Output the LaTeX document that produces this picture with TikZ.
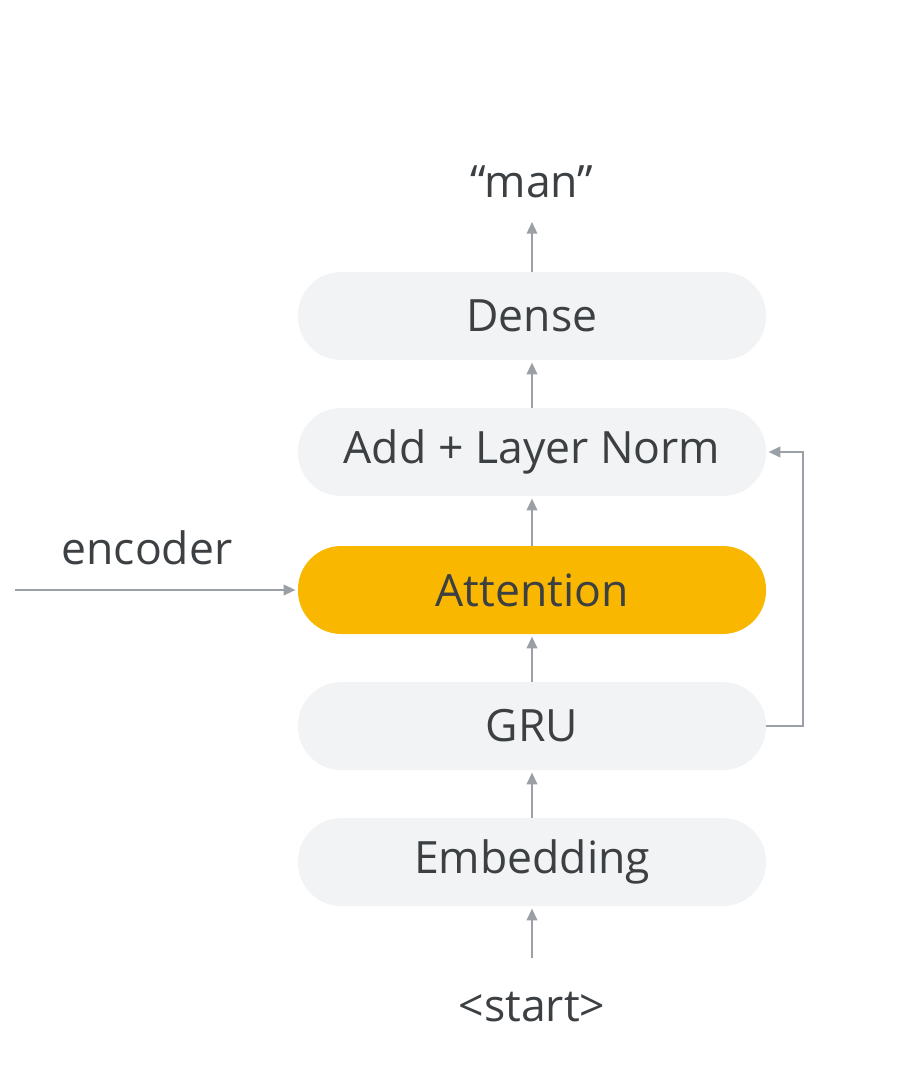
\documentclass[tikz,border=0pt]{standalone}
\usepackage{fontspec}
\setmainfont{Open Sans}
\usetikzlibrary{arrows.meta}
\definecolor{boxgray}{HTML}{F1F3F4}
\definecolor{attn}{HTML}{F9B700}
\definecolor{txt}{HTML}{3C4043}
\definecolor{arr}{HTML}{9AA0A6}
\tikzset{
  layer/.style={rounded corners=1.3cm, minimum width=14.04cm, minimum height=2.64cm,
    fill=boxgray, text=txt, font=\fontsize{38}{46}\selectfont, inner sep=0pt},
  lbl/.style={text=txt, font=\fontsize{38}{46}\selectfont, inner sep=0pt},
  conn/.style={draw=arr, line width=1.6pt, -{Triangle[length=10pt,width=9pt]}}
}
\begin{document}
\begin{tikzpicture}[x=0.03cm,y=-0.03cm]
\useasboundingbox (0,0) rectangle (897,1080);
\node[layer] (dense) at (532,316) {Dense};
\node[layer] (add) at (532,452) {Add + Layer Norm};
\node[layer, fill=attn] (att) at (532,590) {Attention};
\node[layer] (gru) at (532,726) {GRU};
\node[layer] (emb) at (532,862) {Embedding};
\node[lbl] (man) at (532,182) {“man”};
\node[lbl] (start) at (532,1007) {<start>};
\node[lbl] (enc) at (147,548) {encoder};
\coordinate (encL) at (15,590);
\coordinate (manB) at (532,222);
\coordinate (startT) at (532,958);
\coordinate (fbR) at (803,726);
\coordinate (fbT) at (803,452);
\draw[conn] (dense.north) -- (manB);
\draw[conn] (add.north) -- ([yshift=-2]dense.south);
\draw[conn] (att.north) -- ([yshift=-2]add.south);
\draw[conn] (gru.north) -- ([yshift=-2]att.south);
\draw[conn] (emb.north) -- ([yshift=-2]gru.south);
\draw[conn] (startT) -- ([yshift=-2]emb.south);
\draw[conn] (encL) -- ([xshift=-2]att.west);
\draw[conn] (gru.east) -- (fbR) -- (fbT) -- ([xshift=2]add.east);
\end{tikzpicture}
\end{document}
